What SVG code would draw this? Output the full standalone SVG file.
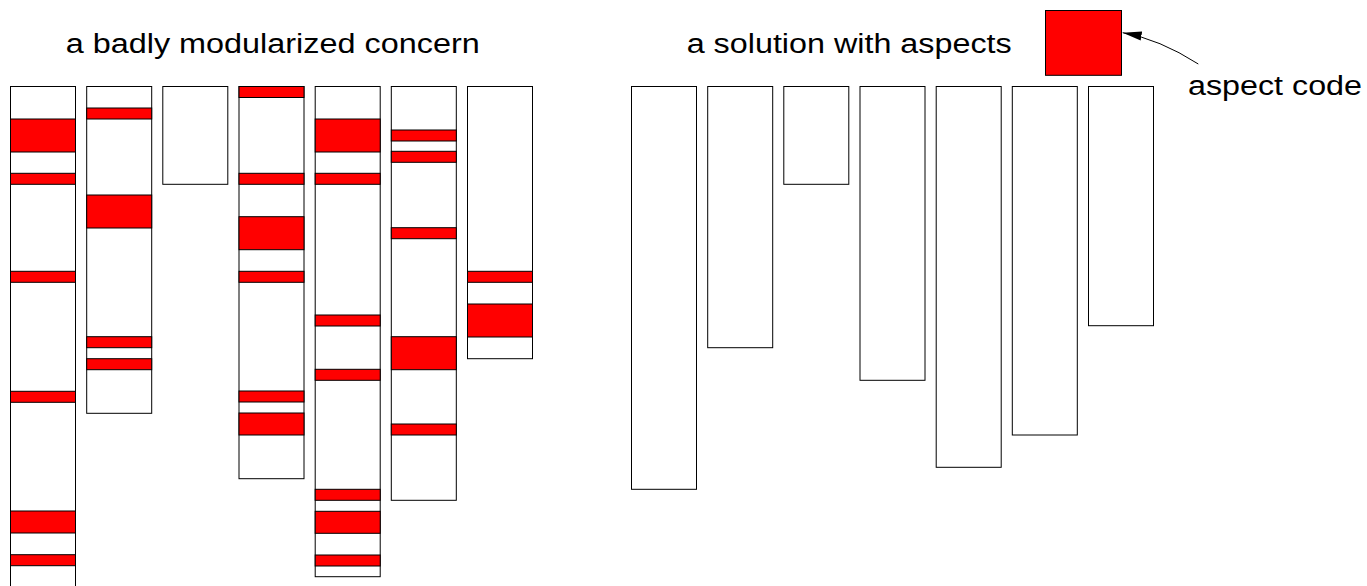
<svg xmlns="http://www.w3.org/2000/svg" width="1367" height="586" viewBox="0 0 1367 586">
  <style>
    .mod { fill: #ffffff; stroke: #000000; stroke-width: 1; }
    .band { fill: #ff0000; stroke: #000000; stroke-width: 1; }
    .label { font-family: "Liberation Sans", Arial, sans-serif; font-size: 27px; fill: #000000; }
    .conn { fill: none; stroke: #000000; stroke-width: 1; }
  </style>
  <defs>
    <marker id="arrowhead" viewBox="0 0 20 10" refX="19" refY="5" markerWidth="20" markerHeight="10" markerUnits="userSpaceOnUse" orient="auto">
      <path d="M0,0.5 L19,5 L0,9.5 Z" fill="#000000"/>
    </marker>
  </defs>
  <rect width="1367" height="586" fill="#ffffff"/>

  <!-- titles -->
  <text class="label" x="65.7" y="53.3" textLength="414" lengthAdjust="spacingAndGlyphs">a badly modularized concern</text>
  <text class="label" x="686.7" y="53.3" textLength="325" lengthAdjust="spacingAndGlyphs">a solution with aspects</text>

  <!-- left: modules with scattered concern code -->
  <g id="tangled-module-1">
    <rect class="mod" x="10.5" y="86.5" width="65" height="510"/>
    <rect class="band" x="10.5" y="119" width="65" height="33"/>
    <rect class="band" x="10.5" y="173.3" width="65" height="11"/>
    <rect class="band" x="10.5" y="271.3" width="65" height="11"/>
    <rect class="band" x="10.5" y="391.3" width="65" height="11"/>
    <rect class="band" x="10.5" y="511" width="65" height="22"/>
    <rect class="band" x="10.5" y="554.7" width="65" height="11"/>
  </g>
  <g id="tangled-module-2">
    <rect class="mod" x="86.7" y="86.5" width="65" height="326.8"/>
    <rect class="band" x="86.7" y="108" width="65" height="11"/>
    <rect class="band" x="86.7" y="195" width="65" height="33"/>
    <rect class="band" x="86.7" y="336.7" width="65" height="11"/>
    <rect class="band" x="86.7" y="358.7" width="65" height="11"/>
  </g>
  <g id="tangled-module-3">
    <rect class="mod" x="162.8" y="86.5" width="65" height="97.8"/>
  </g>
  <g id="tangled-module-4">
    <rect class="mod" x="239" y="86.5" width="65" height="392.2"/>
    <rect class="band" x="239" y="86.5" width="65" height="11"/>
    <rect class="band" x="239" y="173.3" width="65" height="11"/>
    <rect class="band" x="239" y="216.7" width="65" height="33"/>
    <rect class="band" x="239" y="271.3" width="65" height="11"/>
    <rect class="band" x="239" y="391" width="65" height="11"/>
    <rect class="band" x="239" y="413" width="65" height="22"/>
  </g>
  <g id="tangled-module-5">
    <rect class="mod" x="315.2" y="86.5" width="65" height="490.2"/>
    <rect class="band" x="315.2" y="119" width="65" height="33"/>
    <rect class="band" x="315.2" y="173.3" width="65" height="11"/>
    <rect class="band" x="315.2" y="315" width="65" height="11"/>
    <rect class="band" x="315.2" y="369.3" width="65" height="11"/>
    <rect class="band" x="315.2" y="489.3" width="65" height="11"/>
    <rect class="band" x="315.2" y="511.3" width="65" height="22"/>
    <rect class="band" x="315.2" y="555" width="65" height="11"/>
  </g>
  <g id="tangled-module-6">
    <rect class="mod" x="391.3" y="86.5" width="65" height="413.8"/>
    <rect class="band" x="391.3" y="130" width="65" height="11"/>
    <rect class="band" x="391.3" y="151.3" width="65" height="11"/>
    <rect class="band" x="391.3" y="227.7" width="65" height="11"/>
    <rect class="band" x="391.3" y="336.7" width="65" height="33"/>
    <rect class="band" x="391.3" y="424" width="65" height="11"/>
  </g>
  <g id="tangled-module-7">
    <rect class="mod" x="467.5" y="86.5" width="65" height="272.2"/>
    <rect class="band" x="467.5" y="271.3" width="65" height="11"/>
    <rect class="band" x="467.5" y="304" width="65" height="33"/>
  </g>

  <!-- right: the same modules with the concern factored out -->
  <g id="clean-module-1"><rect class="mod" x="631.5" y="86.5" width="65" height="402.8"/></g>
  <g id="clean-module-2"><rect class="mod" x="707.7" y="86.5" width="65" height="261.2"/></g>
  <g id="clean-module-3"><rect class="mod" x="783.8" y="86.5" width="65" height="97.8"/></g>
  <g id="clean-module-4"><rect class="mod" x="860" y="86.5" width="65" height="293.8"/></g>
  <g id="clean-module-5"><rect class="mod" x="936.2" y="86.5" width="65" height="380.8"/></g>
  <g id="clean-module-6"><rect class="mod" x="1012.3" y="86.5" width="65" height="348.5"/></g>
  <g id="clean-module-7"><rect class="mod" x="1088.5" y="86.5" width="65" height="239.2"/></g>

  <g id="aspect">
    <rect class="band" x="1045.5" y="10.5" width="76" height="64.8"/>
  </g>
  <g id="aspect-label">
    <text class="label" x="1188" y="95" textLength="174" lengthAdjust="spacingAndGlyphs">aspect code</text>
  </g>

  <g id="connectors">
    <path class="conn" d="M1198.3,64 Q1159.5,39.1 1122.7,32.7" marker-end="url(#arrowhead)"/>
  </g>
</svg>
